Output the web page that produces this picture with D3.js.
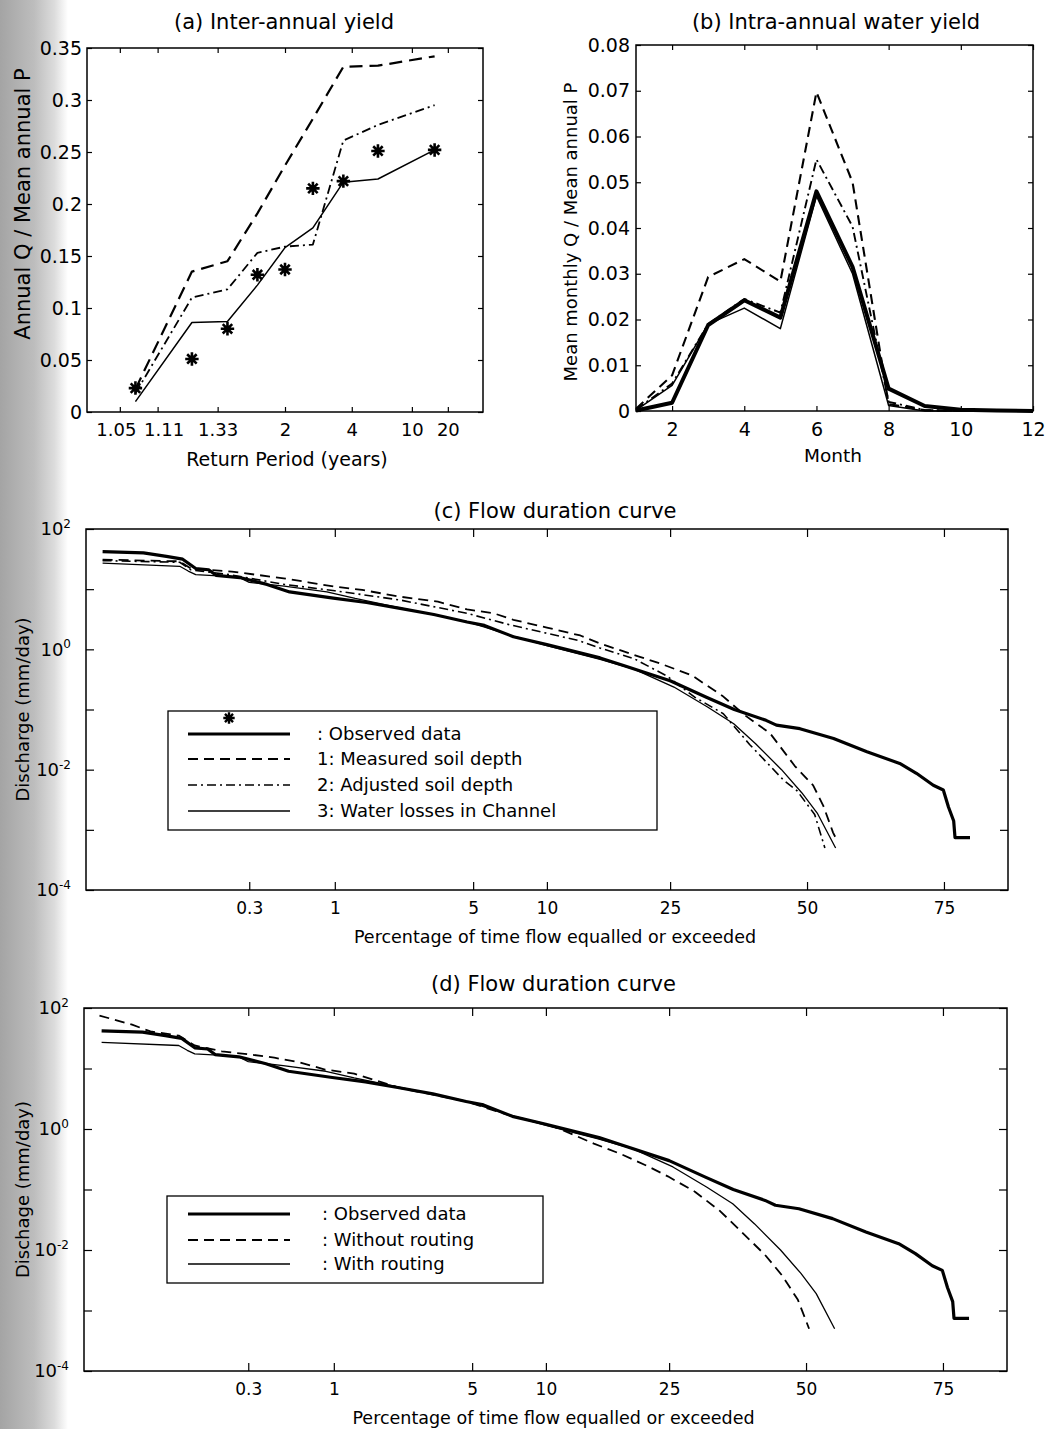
<!DOCTYPE html>
<html><head><meta charset="utf-8">
<script src="https://cdn.jsdelivr.net/npm/d3@7"></script>
<style>
body{margin:0;background:#fff;}
svg{display:block;font-family:"DejaVu Sans",Verdana,sans-serif;}
</style></head><body>
<svg id="chart" width="1047" height="1429"></svg>
<script>
// ---------------- Panel (a) Inter-annual yield ----------------
const returnPeriods   = [1.07, 1.21, 1.39, 1.64, 2.0, 2.57, 3.6, 5.75, 15.3];
const annualObserved  = [0.023, 0.051, 0.080, 0.132, 0.137, 0.215, 0.222, 0.251, 0.252];
const annualMeasured  = [0.022, 0.135, 0.145, 0.191, 0.237, 0.282, 0.332, 0.333, 0.342];
const annualAdjusted  = [0.018, 0.110, 0.118, 0.153, 0.159, 0.161, 0.261, 0.276, 0.295];
const annualLosses    = [0.010, 0.086, 0.087, 0.122, 0.158, 0.177, 0.221, 0.224, 0.252];
const returnTicks     = [1.05, 1.11, 1.33, 2, 4, 10, 20];
const returnTickLabels= ["1.05", "1.11", "1.33", "2", "4", "10", "20"];
const annualYTicks    = [0, 0.05, 0.1, 0.15, 0.2, 0.25, 0.3, 0.35];

// ---------------- Panel (b) Intra-annual water yield ----------------
const months          = [1, 2, 3, 4, 5, 6, 7, 8, 9, 10, 11, 12];
const monthlyObserved = [0.0001, 0.0018, 0.0188, 0.0242, 0.0204, 0.0480, 0.0315, 0.0049, 0.0011, 0.0003, 0.0001, 0];
const monthlyMeasured = [0.0005, 0.0078, 0.0293, 0.0332, 0.0283, 0.0697, 0.0500, 0.0015, 0.0002, 0, 0, 0];
const monthlyAdjusted = [0.0003, 0.0060, 0.0190, 0.0245, 0.0215, 0.0550, 0.0403, 0.0020, 0.0002, 0, 0, 0];
const monthlyLosses   = [0.0002, 0.0056, 0.0190, 0.0225, 0.0180, 0.0470, 0.0300, 0.0012, 0, 0, 0, 0];
const monthTicks      = [2, 4, 6, 8, 10, 12];
const monthlyYTicks   = [0, 0.01, 0.02, 0.03, 0.04, 0.05, 0.06, 0.07, 0.08];

// ---------------- Panels (c),(d) Flow duration curves ----------------
const obsPct  = [0.026, 0.054, 0.08, 0.105, 0.13, 0.16, 0.18, 0.26, 0.39, 0.54, 0.98, 1.5, 2.25, 3.3, 4.7, 5.6, 7.4, 10, 15.4, 18.3, 25, 31, 36, 42, 44, 48.6, 55.2, 61.6, 67.6, 70.5, 73.3, 74.9, 75.7, 76.5, 76.7, 78.9];
const obsQ    = [42, 40, 35, 31.5, 22, 21, 17, 15.6, 12, 9.0, 7.1, 6.0, 4.8, 3.8, 2.85, 2.5, 1.62, 1.2, 0.72, 0.54, 0.30, 0.16, 0.10, 0.066, 0.055, 0.048, 0.033, 0.0198, 0.0127, 0.0087, 0.0055, 0.0046, 0.0024, 0.0014, 0.00074, 0.00074];
const measPct = [0.026, 0.10, 0.12, 0.23, 0.51, 0.7, 1.0, 1.42, 2.25, 3.45, 4.7, 6.1, 7.4, 10, 13.2, 15.4, 20.5, 23.5, 28.5, 33.8, 38, 42.8, 47.6, 51.2, 53.2, 55.1, 55.9];
const measQ   = [31, 29, 22, 19.6, 15, 13, 11, 9.7, 7.5, 6.2, 4.6, 4.0, 3.1, 2.3, 1.7, 1.25, 0.75, 0.58, 0.37, 0.17, 0.08, 0.04, 0.0115, 0.0055, 0.0025, 0.0009, 0.00066];
const adjPct  = [0.026, 0.10, 0.12, 0.23, 0.5, 1.0, 2.25, 4.7, 7.2, 10, 13, 15.4, 19.7, 24.5, 29, 34, 38.9, 45.4, 48, 51.5, 53.5];
const adjQ    = [29.8, 28, 21, 17.2, 12, 9.4, 6.6, 3.96, 2.54, 1.85, 1.4, 1.05, 0.70, 0.36, 0.16, 0.085, 0.026, 0.0067, 0.0045, 0.0018, 0.0005];
const lossPct = [0.026, 0.10, 0.115, 0.13, 0.2, 0.26, 0.3, 0.5, 0.9, 1.3, 2.25, 4.7, 7.4, 10, 15.4, 19.7, 25.6, 31.2, 35.9, 40, 45, 49, 52, 55.6];
const lossQ   = [27, 24, 20, 17.5, 16.5, 15.5, 13, 11.2, 9.0, 7.0, 4.9, 2.9, 1.65, 1.15, 0.68, 0.47, 0.236, 0.11, 0.058, 0.027, 0.01, 0.0041, 0.0019, 0.0005];
const noRoutePct = [0.025, 0.045, 0.062, 0.10, 0.13, 0.2, 0.31, 0.44, 0.63, 0.89, 1.3, 2.25, 4.7, 7.4, 10, 11.3, 14.8, 18, 21.8, 24.8, 29.2, 33.6, 36.9, 42, 45.3, 48.4, 50.6];
const noRouteQ   = [75, 53, 41, 35, 24, 19.2, 17, 15.1, 12.6, 9.6, 8.2, 4.8, 2.85, 1.62, 1.2, 1.0, 0.573, 0.39, 0.242, 0.165, 0.092, 0.044, 0.0226, 0.0083, 0.0038, 0.0015, 0.0005];
const pctTicks   = [0.3, 1, 5, 10, 25, 50, 75];
const qTicks     = [1e-4, 1e-3, 1e-2, 1e-1, 1, 10, 100];

const legendC = [": Observed data", "1: Measured soil depth", "2: Adjusted soil depth", "3: Water losses in Channel"];
const legendD = [": Observed data", ": Without routing", ": With routing"];

// ---------- helpers ----------
function probit(p){
  const a=[-3.969683028665376e+01,2.209460984245205e+02,-2.759285104469687e+02,1.383577518672690e+02,-3.066479806614716e+01,2.506628277459239e+00];
  const b=[-5.447609879822406e+01,1.615858368580409e+02,-1.556989798598866e+02,6.680131188771972e+01,-1.328068155288572e+01];
  const c=[-7.784894002430293e-03,-3.223964580411365e-01,-2.400758277161838e+00,-2.549671010615606e+00,4.374664141464968e+00,2.938163982698783e+00];
  const d=[7.784695709041462e-03,3.224671290700398e-01,2.445134137142996e+00,3.754408661907416e+00];
  const pl=0.02425, ph=1-pl; let q,r;
  if(p<pl){q=Math.sqrt(-2*Math.log(p));return (((((c[0]*q+c[1])*q+c[2])*q+c[3])*q+c[4])*q+c[5])/((((d[0]*q+d[1])*q+d[2])*q+d[3])*q+1);}
  if(p<=ph){q=p-0.5;r=q*q;return (((((a[0]*r+a[1])*r+a[2])*r+a[3])*r+a[4])*r+a[5])*q/(((((b[0]*r+b[1])*r+b[2])*r+b[3])*r+b[4])*r+1);}
  q=Math.sqrt(-2*Math.log(1-p));return -(((((c[0]*q+c[1])*q+c[2])*q+c[3])*q+c[4])*q+c[5])/((((d[0]*q+d[1])*q+d[2])*q+d[3])*q+1);
}
// probability-paper scale built on a d3 linear scale of the normal quantile
function probScale(zScale, toP){
  const s = v => zScale(probit(toP(v)));
  s.copy = () => probScale(zScale.copy(), toP);
  s.range = () => zScale.range();
  s.domain = () => zScale.domain();
  return s;
}
const asteriskType = { draw(ctx, size){
  const r = Math.sqrt(size)/2, s = r*Math.SQRT1_2;
  ctx.moveTo(-r,0); ctx.lineTo(r,0); ctx.moveTo(0,-r); ctx.lineTo(0,r);
  ctx.moveTo(-s,-s); ctx.lineTo(s,s); ctx.moveTo(-s,s); ctx.lineTo(s,-s);
}};
const asterisk = d3.symbol().type(asteriskType).size(180);

const svg = d3.select("#chart");
const defs = svg.append("defs");
const grad = defs.append("linearGradient").attr("id","band").attr("x1",0).attr("x2",1).attr("y1",0).attr("y2",0);
[[0,"#a4a4a4"],[0.5,"#bdbdbd"],[0.8,"#dcdcdc"],[1,"#ffffff"]].forEach(([o,c]) => grad.append("stop").attr("offset",o).attr("stop-color",c));
svg.append("rect").attr("x",0).attr("y",0).attr("width",68).attr("height",1429).attr("fill","url(#band)");

function styleAxis(sel, fs){
  sel.attr("font-family",null).attr("font-size",fs||null);
  sel.select(".domain").remove();
  sel.selectAll(".tick line").attr("stroke","#000").attr("stroke-width",1.2);
  sel.selectAll(".tick text").attr("fill","#000");
}
function drawAxes(g, box, x, y, o){
  const none = () => "";
  const bottom = g.append("g").attr("transform",`translate(0,${box.b})`)
    .call(d3.axisBottom(x).tickValues(o.xTicks).tickFormat(o.xFormat).tickSize(-o.tick).tickPadding(o.xPad))
    .call(styleAxis, o.xFont);
  g.append("g").attr("transform",`translate(0,${box.t})`)
    .call(d3.axisTop(x).tickValues(o.xTicks).tickFormat(none).tickSize(-o.tick)).call(styleAxis);
  const left = g.append("g").attr("transform",`translate(${box.l},0)`)
    .call(d3.axisLeft(y).tickValues(o.yTicks).tickFormat(o.yFormat).tickSize(-o.tick).tickPadding(o.yPad))
    .call(styleAxis, o.yFont);
  g.append("g").attr("transform",`translate(${box.r},0)`)
    .call(d3.axisRight(y).tickValues(o.yTicks).tickFormat(none).tickSize(-o.tick)).call(styleAxis);
  g.append("rect").attr("x",box.l).attr("y",box.t).attr("width",box.r-box.l).attr("height",box.b-box.t)
    .attr("fill","none").attr("stroke","#000").attr("stroke-width",1.5);
  return {bottom, left};
}
function addText(x, y, txt, size, rotate){
  const t = svg.append("text").attr("x",x).attr("y",y).attr("dy","0.35em")
    .attr("text-anchor","middle").attr("font-size",size).attr("fill","#000").text(txt);
  if (rotate) t.attr("transform",`rotate(-90,${x},${y})`);
  return t;
}
function drawPath(g, pts, x, y, style){
  const line = d3.line().x(d => x(d[0])).y(d => y(d[1]));
  g.append("path").datum(pts).attr("d", line).attr("fill","none").attr("stroke","#000")
    .attr("stroke-width", style.w).attr("stroke-dasharray", style.dash || null)
    .attr("stroke-linejoin","round");
}
const DASH = "10,6", DASHDOT = "9,4,2,4";
const fmtDec = d => d === 0 ? "0" : String(+d.toFixed(2));

// ================= Panel (a) =================
{
  const A = {l:87, r:483, t:48, b:412};
  const zA = d3.scaleLinear().domain([-2, 2]).range([A.l, A.r]);
  const xA = probScale(zA, T => 1 - 1/T);
  const yA = d3.scaleLinear().domain([0, 0.35]).range([A.b, A.t]);
  const g = svg.append("g");
  const ax = drawAxes(g, A, xA, yA, {xTicks: returnTicks, xFormat: (d,i) => returnTickLabels[i], xPad: 11, xFont: 18,
    yTicks: annualYTicks, yFormat: fmtDec, yPad: 5, yFont: 19, tick: 5});
  // the two crowded labels at the left end are nudged apart
  ax.bottom.selectAll(".tick text").attr("dx", (d,i) => i === 0 ? -4 : (i === 1 ? 6 : 0));
  const zip = arr => returnPeriods.map((t,i) => [t, arr[i]]);
  drawPath(g, zip(annualMeasured), xA, yA, {w:2.2, dash:"13,7"});
  drawPath(g, zip(annualAdjusted), xA, yA, {w:1.8, dash:DASHDOT});
  drawPath(g, zip(annualLosses), xA, yA, {w:1.5});
  g.selectAll(".star").data(zip(annualObserved)).join("path").attr("class","star")
    .attr("transform", d => `translate(${xA(d[0])},${yA(d[1])})`).attr("d", asterisk)
    .attr("fill","none").attr("stroke","#000").attr("stroke-width",2.6);
  addText(284, 22, "(a) Inter-annual yield", 21);
  addText(287, 459, "Return Period (years)", 19);
  addText(23, 204, "Annual Q / Mean annual P", 21, true);
}

// ================= Panel (b) =================
{
  const B = {l:636, r:1033, t:45, b:411};
  const xB = d3.scaleLinear().domain([1, 12]).range([B.l, B.r]);
  const yB = d3.scaleLinear().domain([0, 0.08]).range([B.b, B.t]);
  const g = svg.append("g");
  drawAxes(g, B, xB, yB, {xTicks: monthTicks, xFormat: d => String(d), xPad: 12, xFont: 19,
    yTicks: monthlyYTicks, yFormat: fmtDec, yPad: 6, yFont: 19, tick: 5});
  const zip = arr => months.map((m,i) => [m, arr[i]]);
  drawPath(g, zip(monthlyLosses), xB, yB, {w:1.5});
  drawPath(g, zip(monthlyAdjusted), xB, yB, {w:1.9, dash:DASHDOT});
  drawPath(g, zip(monthlyMeasured), xB, yB, {w:2.1, dash:DASH});
  drawPath(g, zip(monthlyObserved), xB, yB, {w:4});
  addText(836, 22, "(b) Intra-annual water yield", 21);
  addText(833, 456, "Month", 18.5);
  addText(571, 232, "Mean monthly Q / Mean annual P", 18, true);
}

// ================= Panels (c),(d) =================
function logLabels(axisG){
  axisG.selectAll(".tick text").each(function(d){
    const e = Math.round(Math.log10(d));
    const t = d3.select(this); t.text(null);
    if (e % 2 !== 0) return;
    t.append("tspan").text("10");
    t.append("tspan").attr("dy","-0.6em").attr("font-size","12px").text(String(e));
  });
}
function fdcPanel(box, zDomain, series, legend, legendBox, title, titleY, ylabel){
  const z = d3.scaleLinear().domain(zDomain).range([box.l, box.r]);
  const x = probScale(z, p => p/100);
  const y = d3.scaleLog().domain([1e-4, 1e2]).range([box.b, box.t]);
  const g = svg.append("g");
  const ax = drawAxes(g, box, x, y, {xTicks: pctTicks, xFormat: d => String(d), xPad: 12, xFont: 17,
    yTicks: qTicks, yFormat: () => "", yPad: 15, yFont: 18, tick: 8});
  logLabels(ax.left);
  series.forEach(s => drawPath(g, s.pct.map((p,i) => [p, s.q[i]]), x, y, s.style));
  // legend
  const lg = svg.append("g");
  lg.append("rect").attr("x",legendBox.l).attr("y",legendBox.t).attr("width",legendBox.r-legendBox.l)
    .attr("height",legendBox.b-legendBox.t).attr("fill","#fff").attr("stroke","#000").attr("stroke-width",1.3);
  legend.forEach((lab, i) => {
    const s = series[i], ry = legendBox.rows[i];
    lg.append("line").attr("x1",188).attr("x2",290).attr("y1",ry).attr("y2",ry).attr("stroke","#000")
      .attr("stroke-width", s.style.w).attr("stroke-dasharray", s.style.dash || null);
    lg.append("text").attr("x",legendBox.tx).attr("y",ry).attr("dy","0.35em").attr("font-size",18).attr("fill","#000").text(lab);
  });
  if (legendBox.star) {
    lg.append("path").attr("transform",`translate(229,${legendBox.rows[0]-16})`).attr("d", d3.symbol().type(asteriskType).size(130))
      .attr("fill","none").attr("stroke","#000").attr("stroke-width",2.4);
  }
  addText((box.l+box.r)/2 + 8, titleY, title, 21);
  addText((box.l+box.r)/2 + 8, box.b + 47, "Percentage of time flow equalled or exceeded", 17.5);
  addText(23, (box.t+box.b)/2, ylabel, 18, true);
}

const obsStyle = {w:3.2}, lossStyle = {w:1.3};
fdcPanel({l:86, r:1008, t:529, b:890}, [-3.552, 0.99],
  [ {pct: obsPct, q: obsQ, style: obsStyle},
    {pct: measPct, q: measQ, style: {w:1.8, dash: DASH}},
    {pct: adjPct, q: adjQ, style: {w:1.6, dash: DASHDOT}},
    {pct: lossPct, q: lossQ, style: lossStyle} ],
  legendC, {l:168, r:657, t:711, b:830, rows:[734, 759, 785, 811], tx:317, star:true},
  "(c) Flow duration curve", 511, "Discharge (mm/day)");

fdcPanel({l:84, r:1007, t:1008, b:1371}, [-3.557, 0.99],
  [ {pct: obsPct, q: obsQ, style: obsStyle},
    {pct: noRoutePct, q: noRouteQ, style: {w:1.8, dash: DASH}},
    {pct: lossPct, q: lossQ, style: lossStyle} ],
  legendD, {l:167, r:543, t:1196, b:1283, rows:[1214, 1240, 1264], tx:322, star:false},
  "(d) Flow duration curve", 984, "Dischage (mm/day)");
</script>
</body></html>
